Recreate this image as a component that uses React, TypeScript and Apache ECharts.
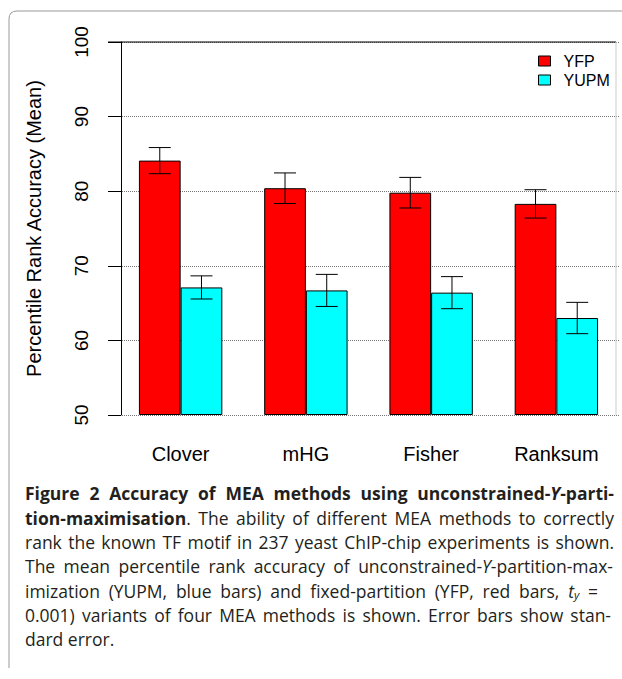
import React, { useEffect, useRef } from "react";
import * as echarts from "echarts";

// ---------- data ----------
const categories = ["Clover", "mHG", "Fisher", "Ranksum"];
const seriesNames = ["YFP", "YUPM"];
const yfpMean = [84.1, 80.4, 79.8, 78.3];
const yfpSE = [1.75, 2.05, 2.05, 1.9];
const yupmMean = [67.1, 66.7, 66.4, 63.0];
const yupmSE = [1.55, 2.15, 2.15, 2.1];
const yMin = 50;
const yMax = 100;
const yInterval = 10;
const yAxisTitle = "Percentile Rank Accuracy (Mean)";

// caption markup: *bold*, _italic_, ~subscript~
const captionLines = [
  "*Figure 2 Accuracy of MEA methods using unconstrained-_Y_-parti-*",
  "*tion-maximisation*. The ability of different MEA methods to correctly",
  "rank the known TF motif in 237 yeast ChIP-chip experiments is shown.",
  "The mean percentile rank accuracy of unconstrained-_Y_-partition-max-",
  "imization (YUPM, blue bars) and fixed-partition (YFP, red bars, _t~y~_ =",
  "0.001) variants of four MEA methods is shown. Error bars show stan-",
  "dard error.",
];

// ---------- layout / style ----------
const FONT = "'Liberation Sans', Arial, Helvetica, sans-serif";
const CAP_FONT = "'Open Sans', 'Noto Sans', sans-serif";
const CAP_SIZE = 17.5;
const CAP_LEFT = 25;
const CAP_RIGHT = [614, 614, 614, 613, 598, 611, 0];
const CAP_BASE0 = 499.5;
const CAP_LH = 24.3;
const CAP_TOP_OFF = 0.86;
const SUB_SCALE = 0.66;
const SUB_DROP = 2;
const BAR_W = 41.7;
const CAP_W = 22;

type Run = { t: string; b: boolean; i: boolean; sub: boolean };

function parseLine(s: string): Run[][] {
  let b = false, it = false, sub = false;
  const words: Run[][] = [];
  let cur: Run[] = [];
  const push = (ch: string) => {
    const last = cur[cur.length - 1];
    if (last && last.b === b && last.i === it && last.sub === sub) last.t += ch;
    else cur.push({ t: ch, b, i: it, sub });
  };
  for (const ch of s) {
    if (ch === "*") b = !b;
    else if (ch === "_") it = !it;
    else if (ch === "~") sub = !sub;
    else if (ch === " ") {
      if (cur.length) words.push(cur);
      cur = [];
    } else push(ch);
  }
  if (cur.length) words.push(cur);
  return words;
}

function runSize(r: Run) {
  return r.sub ? CAP_SIZE * SUB_SCALE : CAP_SIZE;
}

function runFont(r: Run) {
  return `${r.i ? "italic " : ""}${r.b ? "bold " : ""}${runSize(r)}px ${CAP_FONT}`;
}

function buildCaption(): any[] {
  const canvas = document.createElement("canvas");
  const ctx = canvas.getContext("2d")!;
  const measure = (r: Run) => {
    ctx.font = runFont(r);
    return ctx.measureText(r.t).width;
  };
  ctx.font = `${CAP_SIZE}px ${CAP_FONT}`;
  const spaceW = ctx.measureText(" ").width;
  const els: any[] = [];
  captionLines.forEach((line, li) => {
    const words = parseLine(line);
    const widths = words.map((w) => w.reduce((a, r) => a + measure(r), 0));
    const natural = widths.reduce((a, v) => a + v, 0);
    let gap = spaceW;
    const right = CAP_RIGHT[li];
    if (right > 0 && words.length > 1) {
      gap = (right - CAP_LEFT - natural) / (words.length - 1);
    }
    let x = CAP_LEFT;
    const yBase = CAP_BASE0 + li * CAP_LH;
    words.forEach((w) => {
      w.forEach((r) => {
        const base = r.sub ? yBase + SUB_DROP : yBase;
        els.push({
          type: "text",
          x,
          y: base - CAP_TOP_OFF * runSize(r),
          style: {
            text: r.t,
            font: runFont(r),
            fill: "#231f20",
            textAlign: "left",
          },
        });
        x += measure(r);
      });
      x += gap;
    });
  });
  return els;
}

function errRender(side: number) {
  return (params: any, api: any) => {
    const i = api.value(0);
    const m = api.value(1);
    const se = api.value(2);
    const c = api.coord([i, m]);
    const hi = api.coord([i, m + se]);
    const lo = api.coord([i, m - se]);
    const x = c[0] + (side * BAR_W) / 2;
    const st = { stroke: "#000", lineWidth: 1 };
    return {
      type: "group",
      children: [
        { type: "line", shape: { x1: x, y1: hi[1], x2: x, y2: lo[1] }, style: st },
        { type: "line", shape: { x1: x - CAP_W / 2, y1: hi[1], x2: x + CAP_W / 2, y2: hi[1] }, style: st },
        { type: "line", shape: { x1: x - CAP_W / 2, y1: lo[1], x2: x + CAP_W / 2, y2: lo[1] }, style: st },
      ],
    };
  };
}

let registered = false;

export default function App() {
  const ref = useRef<HTMLDivElement>(null);
  useEffect(() => {
    if (!ref.current) return;
    if (!registered) {
      echarts.graphic.registerShape(
        "frame",
        echarts.graphic.extendPath("M9 668 L9 19 Q9 11 17 11 L622 11", {})
      );
      registered = true;
    }
    const chart = echarts.init(ref.current, undefined, { renderer: "svg" });
    chart.setOption({
      animation: false,
      backgroundColor: "#fff",
      textStyle: { fontFamily: FONT },
      grid: { left: 118, top: 42, width: 501, height: 373, containLabel: false },
      legend: {
        data: seriesNames,
        orient: "vertical",
        left: 533,
        top: 48,
        icon: "rect",
        itemWidth: 12,
        itemHeight: 10,
        itemGap: 3,
        itemStyle: { borderColor: "#000", borderWidth: 1 },
        textStyle: { fontSize: 16, color: "#000", fontFamily: FONT, padding: [0, 0, 0, 8] },
      },
      xAxis: {
        type: "category",
        data: categories,
        axisLine: { show: false },
        axisTick: { show: false },
        splitLine: { show: false },
        axisLabel: { fontSize: 20, color: "#000", margin: 29, fontFamily: FONT },
      },
      yAxis: {
        type: "value",
        min: yMin,
        max: yMax,
        interval: yInterval,
        startValue: yMin,
        offset: -3,
        axisLine: { show: true, lineStyle: { color: "#000", width: 1 } },
        axisTick: { show: true, length: 13, lineStyle: { color: "#000" } },
        axisLabel: { rotate: 90, fontSize: 19, color: "#000", margin: 30, fontFamily: FONT },
        splitLine: { show: true, lineStyle: { type: "dotted", color: "#777", width: 1 } },
        name: yAxisTitle,
        nameLocation: "middle",
        nameRotate: 90,
        nameGap: 77,
        nameTextStyle: { fontSize: 20, color: "#000", fontFamily: FONT },
      },
      series: [
        {
          name: seriesNames[0],
          type: "bar",
          data: yfpMean,
          barWidth: BAR_W,
          barGap: "0%",
          itemStyle: { color: "#ff0000", borderColor: "#000", borderWidth: 1 },
        },
        {
          name: seriesNames[1],
          type: "bar",
          data: yupmMean,
          barWidth: BAR_W,
          barGap: "0%",
          itemStyle: { color: "#00ffff", borderColor: "#000", borderWidth: 1 },
        },
        {
          name: "YFP SE",
          type: "custom",
          data: yfpMean.map((m, i) => [i, m, yfpSE[i]]),
          encode: { x: 0, y: 1 },
          renderItem: errRender(-1),
          z: 5,
          silent: true,
        },
        {
          name: "YUPM SE",
          type: "custom",
          data: yupmMean.map((m, i) => [i, m, yupmSE[i]]),
          encode: { x: 0, y: 1 },
          renderItem: errRender(1),
          z: 5,
          silent: true,
        },
      ],
      graphic: [
        { type: "frame", x: 0, y: 0, style: { fill: "none", stroke: "#999", lineWidth: 1 }, silent: true },
        { type: "line", shape: { x1: 108, y1: 42, x2: 616, y2: 42 }, style: { stroke: "#000", lineWidth: 1 }, z: 10 },
        { type: "line", shape: { x1: 616, y1: 42, x2: 616, y2: 415 }, style: { stroke: "#ccc", lineWidth: 1 }, z: 10 },
        ...buildCaption(),
      ],
    });
    return () => chart.dispose();
  }, []);
  return (
    <div
      ref={ref}
      style={{ position: "absolute", left: 0, top: 0, width: 622, height: 679, background: "#fff" }}
    />
  );
}
